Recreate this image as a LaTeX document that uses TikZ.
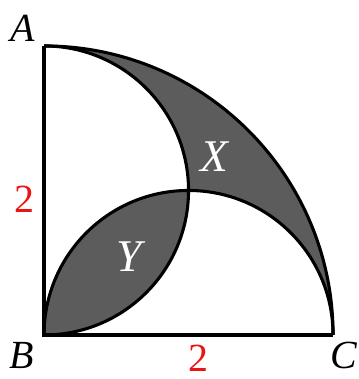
\documentclass[tikz,border=0pt]{standalone}
\usepackage{fontspec}
\setmainfont{Liberation Serif}
\usepackage{xcolor}
\definecolor{darkfill}{RGB}{92,92,92}
\definecolor{lenred}{RGB}{235,20,20}
\tikzset{
	vertex/.style = {font = \fontsize{11}{13}\selectfont\itshape},
	region/.style = {text = white, font = \fontsize{12.5}{14}\selectfont\itshape},
	length/.style = {text = lenred, font = \fontsize{11}{13}\selectfont}
}

\begin{document}
\begin{tikzpicture} [x = 1.4cm, y = 1.4cm, line width = 0.85pt]
	\useasboundingbox (-0.3045,-0.3045) rectangle (2.173,2.318);
	\coordinate (B) at (0,0);
	\coordinate (A) at (0,2);
	\coordinate (C) at (2,0);
	% shaded regions X and Y
	\fill [darkfill] (A) arc (90:0:2) arc (0:90:1) arc (0:90:1) -- cycle;
	\fill [darkfill] (B) arc (180:90:1) arc (0:-90:1) -- cycle;
	\draw (A) -- (B) -- (C);
	\draw (A) arc (90:0:2);
	\draw (B) arc (-90:90:1);
	\draw (C) arc (0:180:1);
	\node [vertex] (labA) at (-0.145,2.125) {A};
	\node [vertex] (labB) at (-0.152,-0.145) {B};
	\node [vertex] (labC) at (2.076,-0.145) {C};
	\node [length] (lenAB) at (-0.138,0.941) {2};
	\node [length] (lenBC) at (1.066,-0.159) {2};
	\node [region] (labX) at (1.176,1.232) {X};
	\node [region] (labY) at (0.588,0.540) {Y};
\end{tikzpicture}
\end{document}
